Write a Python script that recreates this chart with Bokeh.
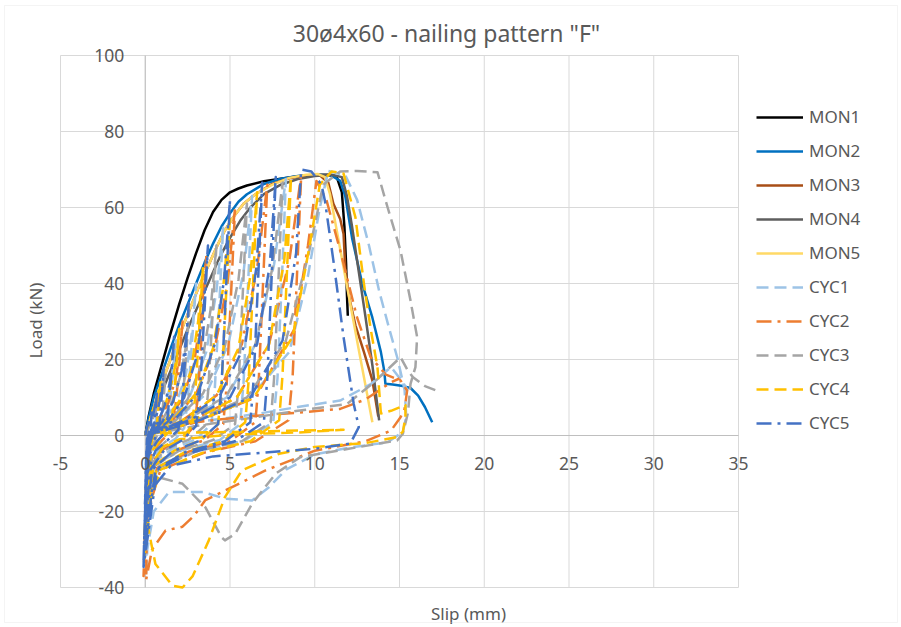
from bokeh.plotting import figure
from bokeh.models import (Range1d, Label, Legend, LegendItem,
                          ColumnDataSource, BoxAnnotation, Grid)
from bokeh.core.properties import value
from bokeh.embed import file_html
from bokeh.resources import INLINE

# ---- axis ticks and their labels ---------------------------------------
x_ticks = [-5, 0, 5, 10, 15, 20, 25, 30, 35]
x_tick_labels = ["-5", "0", "5", "10", "15", "20", "25", "30", "35"]
y_ticks = [-40, -20, 0, 20, 40, 60, 80, 100]
y_tick_labels = ["-40", "-20", "0", "20", "40", "60", "80", "100"]

# ---- monotonic tests (slip mm, load kN) --------------------------------
mon1_slip = [0, 0.2, 0.5, 1.0, 1.5, 2.0, 2.5, 3.0, 3.5, 4.0, 4.5, 5.0, 5.5, 6.0, 7.0,
             8.0, 9.0, 10.0, 10.8, 11.3, 11.6, 11.75, 11.85, 11.9, 11.95]
mon1_load = [0, 5, 11, 19, 27, 34.5, 41.5, 48, 54, 58.8, 62, 64, 65, 65.8, 66.9,
             67.6, 68.2, 68.6, 68.6, 68, 64, 55, 45, 37, 31.5]

mon2_slip = [0, 0.2, 0.5, 1.0, 1.5, 2.0, 2.5, 3.0, 3.5, 4.0, 4.5, 5.0, 5.5, 6.0, 7.0,
             8.0, 9.0, 10.0, 11.0, 11.5, 11.8, 12.2, 12.8, 13.4, 13.9, 14.1, 14.17,
             14.6, 15.2, 15.65, 16.1, 16.5, 16.93]
mon2_load = [0, 4.5, 10, 16.5, 23, 29, 34.5, 40, 45.5, 50.5, 55, 58.5, 61.5, 63.5, 66.2,
             67.6, 68.3, 68.6, 68.4, 67, 63, 52, 40, 31, 22, 17, 13.6,
             13.4, 13, 12.5, 10.5, 7.5, 3.5]

mon3_slip = [0, 0.3, 0.7, 1.2, 1.7, 2.2, 2.7, 3.2, 3.7, 4.2, 4.7, 5.2, 5.8, 6.5, 7.5,
             8.5, 9.5, 10.3, 10.8, 11.1, 11.5, 11.7, 11.8, 12.0, 12.4, 12.9, 13.4, 13.75]
mon3_load = [0, 4.5, 10, 16.5, 22.5, 28.5, 34, 39.5, 44.5, 49.5, 54, 57.5, 61, 63.5, 66.2,
             67.7, 68.4, 68.5, 66.5, 61, 57, 53, 44, 37, 29, 22, 14.5, 5]

mon4_slip = [0, 0.3, 0.8, 1.4, 2.0, 2.6, 3.2, 3.8, 4.4, 5.0, 5.6, 6.2, 7.0, 8.0, 9.0,
             10.0, 11.0, 11.6, 11.9, 12.2, 12.6, 13.0, 13.4, 13.8]
mon4_load = [0, 4, 9.5, 16, 22.5, 29, 35, 41, 47, 52, 56.5, 60, 63.5, 66, 67.5,
             68.3, 68.6, 68, 63, 55, 43, 31, 18.5, 4]

mon5_slip = [0, 0.3, 0.7, 1.2, 1.7, 2.2, 2.7, 3.2, 3.7, 4.2, 4.7, 5.2, 5.8, 6.5, 7.5,
             8.5, 9.5, 10.2, 10.6, 10.9, 11.4, 12.0, 12.6, 13.0, 13.4]
mon5_load = [0, 4.5, 10, 16.5, 22.5, 28.5, 34, 39.5, 44.5, 49.5, 54, 57.5, 61, 63.5, 66,
             67.8, 68.6, 68.8, 68, 63.5, 51.5, 37, 22.5, 13, 3.5]

# ---- cyclic tests: (slip mm, load kN) pairs, one row per loop ----------
cyc1_points = [
    (0, 0),
    (0.1, 1.5), (0.35, 4), (0.6, 7.5), (0.8, 12), (0.68, 6), (0.55, 1.5), (0.35, -1), (0.15, -4), (0.05, -8),
    (0.15, -2), (0.35, 1), (0.7, 3.5), (1.1, 7), (1.45, 12.5), (1.68, 19), (1.8, 25), (1.58, 14), (1.38, 5),
    (1.2, 1), (0.8, -1), (0.4, -3.5), (0.15, -8), (0.05, -13),
    (0.15, -3), (0.4, 0.8), (1.0, 3), (1.8, 8), (2.4, 16), (2.78, 28), (3.0, 40), (2.75, 24), (2.5, 9),
    (2.3, 2), (1.8, -0.8), (1.0, -3), (0.4, -6), (0.12, -12), (0.03, -17),
    (0.15, -4), (0.4, 0.6), (1.3, 3.5), (2.6, 10), (3.6, 22), (4.2, 38), (4.6, 55), (4.35, 33), (4.1, 12),
    (3.9, 3), (3.0, -1), (1.6, -3.5), (0.5, -7), (0.12, -14), (0.03, -21),
    (0.15, -4), (0.45, 0.5), (1.8, 4), (3.6, 11), (4.9, 24), (5.8, 43), (6.3, 63), (6.05, 38), (5.8, 14),
    (5.6, 3), (4.4, -1.2), (2.2, -3.8), (0.6, -7.5), (0.12, -15), (0.03, -24),
    (0.15, -4), (0.5, 0.5), (2.4, 4), (4.8, 10), (6.5, 24), (7.6, 45), (8.3, 67.5), (8.05, 40), (7.8, 15),
    (7.55, 3.5), (5.8, -1.5), (3, -4), (0.8, -8), (0.15, -16), (0.03, -27),
    (0.15, -4), (0.5, 0.6), (3, 4), (6, 9), (8.5, 22), (9.6, 42), (10.3, 60), (10.8, 69.6), (11.8, 68.5),
    (12.5, 62), (13.2, 50), (13.8, 38), (14.4, 28), (14.9, 20), (15.3, 12), (15.4, 5), (15.2, 1),
    (14.3, -1.8), (12, -3.2), (10, -5), (8.3, -9), (7.3, -13.6), (6.3, -17.1), (4.7, -16.6), (3.4, -14.9),
    (1.4, -14.9), (0.5, -20), (0.12, -30), (0.05, -37),
    (0.15, -8), (0.4, 0.5), (3, 3.5), (6.6, 5.7), (9, 7.5), (11.5, 9.2), (13.3, 13.5), (14.5, 18),
    (15.2, 14), (15.5, 11.8),
]

cyc2_points = [
    (0, 0),
    (0.15, 2), (0.45, 5), (0.75, 9), (1.0, 14), (0.85, 7), (0.7, 2), (0.45, -1), (0.2, -4.5), (0.05, -9),
    (0.15, -2.5), (0.4, 1), (0.85, 4), (1.35, 8.5), (1.8, 15), (2.05, 22), (2.2, 30), (1.98, 17), (1.75, 6),
    (1.55, 1), (1.0, -1.2), (0.45, -4), (0.15, -9), (0.04, -15),
    (0.15, -3), (0.4, 0.8), (1.2, 3.5), (2.1, 9), (2.85, 18), (3.3, 32), (3.6, 47), (3.35, 28), (3.1, 10),
    (2.9, 2.5), (2.2, -1), (1.1, -3.5), (0.4, -7), (0.1, -14), (0.02, -20),
    (0.15, -4), (0.45, 0.6), (1.6, 4), (3.0, 11), (4.1, 23), (4.85, 40), (5.3, 60), (5.05, 36), (4.8, 13),
    (4.6, 3), (3.5, -1.2), (1.8, -4), (0.5, -8), (0.1, -16), (0.02, -25),
    (0.15, -4), (0.5, 0.5), (2.2, 4), (4.2, 10.5), (5.7, 24), (6.6, 44), (7.2, 66), (6.95, 40), (6.7, 15),
    (6.5, 3.5), (5, -1.5), (2.6, -4.2), (0.7, -8.5), (0.12, -18), (0.02, -30),
    (0.15, -4), (0.5, 0.5), (2.8, 4), (5.4, 10), (7.3, 24), (8.5, 46), (9.2, 68.5), (8.95, 42), (8.7, 16),
    (8.45, 4), (6.5, -1.5), (3.5, -4.5), (0.9, -9), (0.15, -20), (-0.1, -37),
    (0.1, -10), (0.4, 0.5), (3.2, 4), (6.5, 10), (8.8, 28), (9.6, 50), (10.1, 67), (10.7, 61.8),
    (11.5, 48.7), (12.5, 31), (13.3, 20.6), (14.2, 16), (15.06, 14.5), (15.45, 11.8), (15.3, 7),
    (15.06, 4.8), (14.5, 1.3), (13, -1.5), (10, -4), (7.1, -9.2), (4.7, -14.5), (3.55, -17), (2.9, -21),
    (2.2, -24), (1.2, -25), (0.4, -30), (0.05, -38),
    (0.15, -10), (0.4, 0.5), (3, 3.5), (6, 5), (9, 6), (11.5, 7), (13, 9.5), (14.5, 14), (15, 15),
]

cyc3_points = [
    (0, 0),
    (0.2, 2), (0.6, 6), (0.95, 11), (1.2, 16), (1.05, 8), (0.9, 2.5), (0.6, -1), (0.25, -4.5), (0.06, -9),
    (0.15, -2.5), (0.4, 1), (1.0, 4), (1.6, 9), (2.1, 16), (2.42, 24), (2.6, 33), (2.38, 19), (2.15, 6.5),
    (1.95, 1), (1.3, -1.2), (0.6, -4), (0.15, -9), (0.04, -15),
    (0.15, -3.5), (0.45, 0.8), (1.4, 3.5), (2.5, 9.5), (3.35, 19), (3.85, 33), (4.2, 50), (3.95, 30),
    (3.7, 11), (3.5, 2.5), (2.6, -1), (1.3, -3.5), (0.45, -7), (0.1, -14), (0.02, -20),
    (0.15, -4), (0.45, 0.6), (1.8, 4), (3.4, 11), (4.7, 23.5), (5.5, 41), (6.0, 61), (5.75, 37), (5.5, 13),
    (5.3, 3), (4, -1.2), (2, -4), (0.55, -8), (0.1, -16), (0.02, -24),
    (0.15, -4), (0.5, 0.5), (2.4, 4), (4.8, 10.5), (6.5, 24), (7.5, 44), (8.1, 66.5), (7.85, 40), (7.6, 15),
    (7.4, 3.5), (5.7, -1.5), (3, -4.2), (0.8, -8.5), (0.12, -18), (0.02, -28),
    (0.15, -4), (0.5, 0.5), (3, 4), (6, 10), (8.3, 25), (9.6, 47), (10.5, 66), (11.5, 69.5), (12.5, 69.6),
    (13.7, 69.3), (14.3, 60), (15.06, 48.7), (15.65, 35.5), (16.04, 25.9), (15.94, 18), (15.65, 13.6),
    (15.5, 6), (15.2, 0.5), (14.86, -1.3), (12, -3.5), (9.15, -5.7), (7.7, -10), (6.3, -18), (5.3, -25.9),
    (4.7, -27.6), (4.5, -26.8), (3.55, -18.9), (2.2, -12.7), (0.78, -11), (0.3, -14), (0.1, -22),
    (0.2, -4), (0.5, 0.5), (3, 2.5), (6, 4.5), (9, 6.5), (11.9, 8.3), (13.5, 14), (15.06, 20.6),
    (15.5, 17), (15.8, 15.3), (16.5, 13), (17.2, 11.8),
]

cyc4_points = [
    (0, 0),
    (0.15, 2.5), (0.4, 6), (0.7, 10), (0.9, 14), (0.78, 7), (0.65, 2), (0.42, -1), (0.2, -5), (0.05, -10),
    (0.15, -3), (0.38, 1), (0.8, 4), (1.25, 9), (1.65, 15.5), (1.88, 21), (2.0, 28), (1.8, 16), (1.6, 5.5),
    (1.42, 1), (0.9, -1.2), (0.4, -4), (0.12, -10), (0.02, -17),
    (0.15, -3.5), (0.4, 0.8), (1.1, 3.5), (2.0, 9), (2.7, 17), (3.12, 30), (3.4, 44), (3.17, 27),
    (2.93, 9.5), (2.75, 2.5), (2.1, -1), (1.0, -3.5), (0.35, -7.5), (0.08, -15), (0.0, -23),
    (0.15, -4), (0.45, 0.6), (1.6, 4), (3.0, 11), (4.0, 23), (4.6, 39), (5.0, 58), (4.75, 35), (4.5, 13),
    (4.3, 3), (3.3, -1.2), (1.7, -4), (0.5, -8), (0.08, -17), (-0.05, -27),
    (0.15, -4), (0.5, 0.5), (2.2, 4), (4.2, 10.5), (5.5, 23), (6.2, 42), (6.6, 64), (6.35, 39), (6.1, 14.5),
    (5.9, 3.5), (4.6, -1.5), (2.4, -4.2), (0.7, -8.5), (0.1, -18), (-0.05, -30),
    (0.15, -4), (0.5, 0.5), (2.8, 4), (5.4, 10), (7.3, 24), (8.2, 46), (8.6, 68), (8.35, 42), (8.1, 16),
    (7.9, 4), (6.2, -1.5), (3.4, -4.5), (0.9, -9), (0.1, -20), (-0.05, -33),
    (0.15, -6), (0.5, 0.5), (3.2, 4), (6.4, 10), (8.7, 26), (9.7, 50), (10.3, 66), (11, 69.5), (11.7, 68.9),
    (12.4, 57.4), (12.9, 40), (13.3, 28), (13.7, 18), (13.9, 5.8), (14.5, 6.5), (15.06, 7.5), (15.35, 8),
    (15.35, 4.8), (15.2, 1), (14.86, -0.4), (13, -2), (10, -3), (7.9, -4.8), (5.7, -9.2), (4.7, -16.2),
    (3.75, -27.6), (2.8, -37), (2.2, -40), (1.6, -39.5), (0.6, -33.8), (0.2, -25), (0.05, -15),
    (0.2, -2), (0.5, 0.5), (3, 0.8), (6, 1), (9, 1.3), (11.7, 1.5), (9, 0.8), (5, 0.2), (2, -1), (0.5, -4),
]

cyc5_points = [
    (0, 0),
    (0.1, 2), (0.25, 4), (0.4, 7), (0.33, 3), (0.25, 0), (0.15, -2.5), (0.05, -6),
    (0.1, -1), (0.25, 1.5), (0.45, 5), (0.6, 8.5), (0.7, 12), (0.6, 6), (0.5, 1), (0.3, -1.5), (0.12, -5),
    (0.02, -10),
    (0.1, -2), (0.3, 1), (0.6, 4), (0.85, 9), (1.0, 13), (1.1, 18), (0.95, 9), (0.82, 2), (0.55, -1),
    (0.25, -4), (0.08, -9), (0.0, -14),
    (0.1, -2.5), (0.32, 1), (0.75, 3.5), (1.15, 8), (1.45, 14), (1.62, 20), (1.7, 26), (1.5, 14), (1.3, 4),
    (1.1, 0.5), (0.7, -1.5), (0.3, -4.5), (0.07, -11), (-0.02, -18),
    (0.1, -3), (0.35, 0.8), (1.0, 3.5), (1.65, 9), (2.15, 17), (2.45, 27), (2.6, 37), (2.38, 22), (2.15, 7),
    (1.95, 1.5), (1.3, -1.3), (0.6, -4), (0.12, -10), (-0.03, -22),
    (0.1, -4), (0.4, 0.6), (1.3, 3.5), (2.3, 10), (3.05, 21), (3.45, 34), (3.7, 50), (3.45, 29), (3.2, 10),
    (3.0, 2.5), (2.2, -1.2), (1.1, -4), (0.3, -9), (-0.05, -26),
    (0.1, -4), (0.42, 0.6), (1.7, 4), (3.1, 11), (4.1, 24), (4.65, 41), (5.0, 62), (4.75, 37), (4.5, 13),
    (4.3, 3), (3.2, -1.4), (1.6, -4.2), (0.4, -9), (-0.08, -30),
    (0.1, -4), (0.45, 0.5), (2.3, 4), (4.4, 10.5), (5.9, 24), (6.55, 44), (6.9, 66.5), (6.65, 40), (6.4, 15),
    (6.2, 3.5), (4.7, -1.5), (2.4, -4.3), (0.6, -9), (-0.1, -33),
    (0.1, -4), (0.45, 0.5), (2.6, 4), (5, 10), (6.6, 24), (7.35, 45), (7.7, 68), (7.45, 41), (7.2, 15),
    (7.0, 3.5), (5.3, -1.5), (2.8, -4.4), (0.7, -9), (-0.1, -34.6),
    (0.1, -5), (0.45, 0.5), (3.2, 4), (6.2, 10), (8.1, 25), (8.9, 48), (9.2, 70), (9.8, 69.5), (10.4, 66),
    (10.6, 61.8), (11.1, 46), (11.7, 25.9), (12.3, 8.3), (12.6, 2.2), (12.1, -2.1), (10, -3.5), (7, -4.5),
    (4, -5.5), (1.5, -8), (0.4, -14), (0.0, -30),
    (0.15, -3), (0.4, 0.5), (1.2, 2.5),
]

series_names = ["MON1", "MON2", "MON3", "MON4", "MON5", "CYC1", "CYC2", "CYC3", "CYC4", "CYC5"]
series_colors = ["#000000", "#0070C0", "#A84E16", "#5E5E5E", "#FFD966",
                 "#9DC3E6", "#ED7D31", "#A5A5A5", "#FFC000", "#4472C4"]

FONT = "Noto Sans"
TEXT_COLOR = "#595959"
W, H = 901, 627

# The plot frame fills the whole canvas; the gridded area spans slip -5..35 and
# load -40..100 (16.95 px per mm, 3.8 px per kN), leaving room for the texts.
PX_X, PX_Y = 16.95, 3.8
x_lo = -5 - 60 / PX_X
x_hi = x_lo + W / PX_X
y_hi = 100 + 55 / PX_Y
y_lo = y_hi - H / PX_Y

p = figure(width=W, height=H, x_range=Range1d(x_lo, x_hi), y_range=Range1d(y_lo, y_hi),
           toolbar_location=None, tools="", output_backend="svg",
           x_axis_location=None, y_axis_location=None,
           min_border=0, background_fill_color="white", border_fill_color="white",
           outline_line_color=None)
p.renderers = [r for r in p.renderers if not isinstance(r, Grid)]
p.center = [c for c in p.center if not isinstance(c, Grid)]

# gridlines confined to the plotting area, then the two axis lines through the origin
nx, ny = len(x_ticks), len(y_ticks)
p.segment(x0=x_ticks, y0=[y_ticks[0]] * nx, x1=x_ticks, y1=[y_ticks[-1]] * nx,
          line_color="#d9d9d9", line_width=1)
p.segment(x0=[x_ticks[0]] * ny, y0=y_ticks, x1=[x_ticks[-1]] * ny, y1=y_ticks,
          line_color="#d9d9d9", line_width=1)
p.segment(x0=[0, x_ticks[0]], y0=[y_ticks[0], 0], x1=[0, x_ticks[-1]], y1=[y_ticks[-1], 0],
          line_color="#bfbfbf", line_width=1)

sources = [
    ColumnDataSource(dict(x=mon1_slip, y=mon1_load)),
    ColumnDataSource(dict(x=mon2_slip, y=mon2_load)),
    ColumnDataSource(dict(x=mon3_slip, y=mon3_load)),
    ColumnDataSource(dict(x=mon4_slip, y=mon4_load)),
    ColumnDataSource(dict(x=mon5_slip, y=mon5_load)),
]
for pts in (cyc1_points, cyc2_points, cyc3_points, cyc4_points, cyc5_points):
    sources.append(ColumnDataSource(dict(x=[a for a, _ in pts], y=[b for _, b in pts])))

dashes = ["solid"] * 5 + ["12 6", "15 6 3 6", "12 6", "12 6", "15 6 3 6"]

items = []
for name, color, dash, src in zip(series_names, series_colors, dashes, sources):
    r = p.line("x", "y", source=src, line_color=color, line_width=2.5,
               line_dash=dash, line_join="round")
    items.append(LegendItem(label=name, renderers=[r]))

# tick labels sit next to the axes that cross at the origin
p.text(x=x_ticks, y=[0] * nx, text=x_tick_labels, y_offset=28,
       text_align="center", text_baseline="middle", text_font=value(FONT),
       text_font_size="17.5px", text_color=TEXT_COLOR)
p.text(x=[0] * ny, y=y_ticks, text=y_tick_labels, x_offset=-21,
       text_align="right", text_baseline="middle", text_font=value(FONT),
       text_font_size="17.5px", text_color=TEXT_COLOR)

legend = Legend(items=items, location=(756, 193), orientation="vertical",
                glyph_width=47, glyph_height=20, label_height=20, spacing=11,
                label_standoff=6, padding=10, margin=0,
                border_line_color=None, background_fill_alpha=0,
                label_text_font=FONT, label_text_font_size="17px",
                label_text_color=TEXT_COLOR)
p.add_layout(legend)

# chart and axis titles (screen pixels from the lower-left corner)
p.add_layout(Label(x=446, y=H - 32, x_units="screen", y_units="screen",
                   text='30ø4x60 - nailing pattern "F"', text_align="center",
                   text_baseline="middle", text_font=FONT,
                   text_font_size="23px", text_color=TEXT_COLOR))
p.add_layout(Label(x=468, y=H - 613, x_units="screen", y_units="screen",
                   text="Slip (mm)", text_align="center", text_baseline="middle",
                   text_font=FONT, text_font_size="17px", text_color=TEXT_COLOR))
p.add_layout(Label(x=35, y=H - 320, x_units="screen", y_units="screen",
                   text="Load (kN)", text_align="center", text_baseline="middle",
                   angle=1.5707963, text_font=FONT, text_font_size="17px",
                   text_color=TEXT_COLOR))

# light border around the whole chart area
p.add_layout(BoxAnnotation(left=4, right=897, bottom=H - 622, top=H - 5,
                           left_units="screen", right_units="screen",
                           bottom_units="screen", top_units="screen",
                           fill_alpha=0, line_color="#d9d9d9", line_width=1))

open("out.html", "w").write(file_html(p, INLINE))
